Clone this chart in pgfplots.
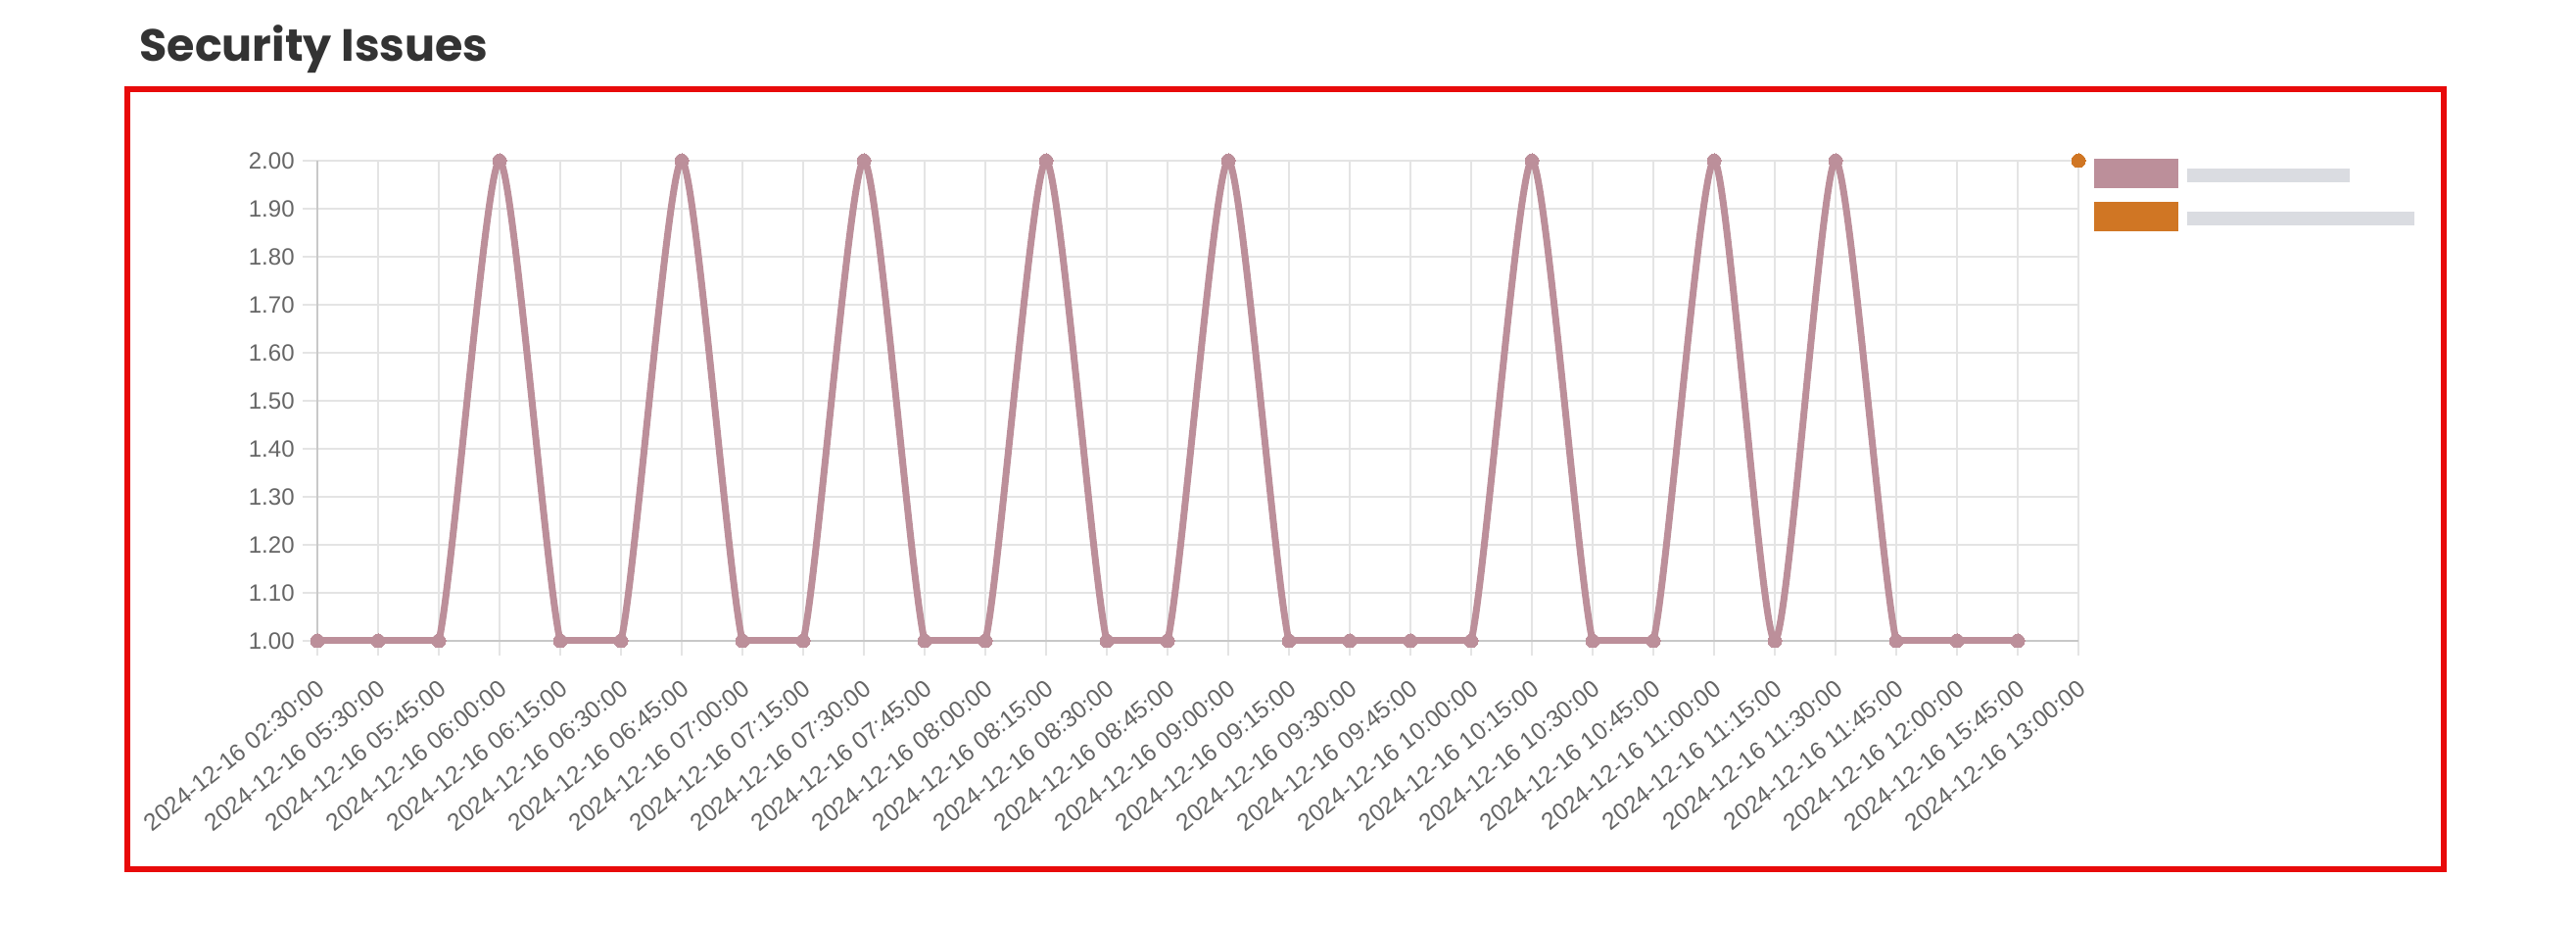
\documentclass[border=0pt]{standalone}
\usepackage{fontspec}
\setmainfont{Liberation Sans}
\newfontfamily\titlefont{Poppins}
\usepackage{pgfplots}
\pgfplotsset{compat=1.18}
\usepackage{pgfplotstable}

\definecolor{pinkc}{RGB}{188,143,154}
\definecolor{orangec}{RGB}{208,118,36}
\definecolor{gridc}{RGB}{228,228,228}
\definecolor{axisc}{RGB}{200,200,200}
\definecolor{labc}{RGB}{102,102,102}
\definecolor{titlec}{RGB}{51,51,51}
\definecolor{redc}{RGB}{232,10,10}
\definecolor{blurc}{RGB}{218,220,225}

% pink series: category index, value
\pgfplotstableread{
x y
0 1
1 1
2 1
3 2
4 1
5 1
6 2
7 1
8 1
9 2
10 1
11 1
12 2
13 1
14 1
15 2
16 1
17 1
18 1
19 1
20 2
21 1
22 1
23 2
24 1
25 2
26 1
27 1
28 1
}\pinkdata

% flat runs of the pink series (drawn straight)
\pgfplotstableread{
x y
0 1
1 1
2 1
3 nan
4 1
5 1
6 nan
7 1
8 1
9 nan
10 1
11 1
12 nan
13 1
14 1
15 nan
16 1
17 1
18 1
19 1
20 nan
21 1
22 1
23 nan
26 1
27 1
28 1
}\pinkflat

% orange series
\pgfplotstableread{
x y
29 2
}\orangedata

\pgfplotsset{
  common/.style={
    at={(162pt,146pt)}, anchor=south west,
    scale only axis, width=899pt, height=245pt,
    xmin=0, xmax=29, ymin=1, ymax=2,
  },
}

\begin{document}
\begin{tikzpicture}[x=1pt,y=1pt]
\useasboundingbox (0,0) rectangle (1315,473);
\draw[redc, line width=3pt] (65,29.5) rectangle (1247.5,427.5);
\node[anchor=base west, inner sep=0pt, text=titlec,
      font=\titlefont\bfseries\fontsize{23}{28}\selectfont] at (71,441.5) {Security Issues};

\begin{axis}[common,
  clip=true,
  axis x line*=bottom, axis y line*=left,
  axis line style={-, line width=1pt, draw=axisc},
  every outer x axis line/.append style={-},
  every outer y axis line/.append style={-},
  grid=major,
  major grid style={line width=1pt, draw=gridc},
  tick align=outside,
  major tick length=7.5pt,
  tick style={line width=1pt, draw=gridc},
  xtick={0,...,29},
  ytick={1,1.1,1.2,1.3,1.4,1.5,1.6,1.7,1.8,1.9,2},
  /pgf/number format/fixed,
  /pgf/number format/fixed zerofill,
  /pgf/number format/precision=2,
  /pgf/number format/assume math mode=true,
  every tick label/.append style={font=\fontsize{12}{14}\selectfont, text=labc},
  xticklabel style={font=\fontsize{12.3}{14}\selectfont, yshift=-15pt, xshift=2pt, rotate=39, anchor=east, inner sep=0pt},
  yticklabel style={xshift=-4pt, inner sep=0pt},
  xticklabels={2024-12-16 02:30:00,2024-12-16 05:30:00,2024-12-16 05:45:00,2024-12-16 06:00:00,2024-12-16 06:15:00,2024-12-16 06:30:00,2024-12-16 06:45:00,2024-12-16 07:00:00,2024-12-16 07:15:00,2024-12-16 07:30:00,2024-12-16 07:45:00,2024-12-16 08:00:00,2024-12-16 08:15:00,2024-12-16 08:30:00,2024-12-16 08:45:00,2024-12-16 09:00:00,2024-12-16 09:15:00,2024-12-16 09:30:00,2024-12-16 09:45:00,2024-12-16 10:00:00,2024-12-16 10:15:00,2024-12-16 10:30:00,2024-12-16 10:45:00,2024-12-16 11:00:00,2024-12-16 11:15:00,2024-12-16 11:30:00,2024-12-16 11:45:00,2024-12-16 12:00:00,2024-12-16 15:45:00,2024-12-16 13:00:00},
]
\addplot[draw=pinkc, line width=3.5pt, smooth, tension=0.4, line join=round, mark=none] table[x=x,y=y] {\pinkdata};
\end{axis}

\begin{axis}[common,
  clip=false, hide axis,
  unbounded coords=jump,
  legend style={at={(1.0089,1.0041)}, anchor=north west, draw=none, fill=none,
    inner sep=0pt, outer sep=0pt, row sep=7pt, column sep=4.5pt,
    nodes={inner sep=0pt}},
  legend cell align=left,
  legend image code/.code={\fill[#1] (0pt,-7.5pt) rectangle (43pt,7.5pt);},
]
\addplot[draw=pinkc, line width=3.5pt, mark=none, forget plot] table[x=x,y=y] {\pinkflat};
\addplot[color=pinkc, only marks, mark=*, mark size=3.5pt, mark options={fill=pinkc, draw=pinkc, line width=0pt}, forget plot] table[x=x,y=y] {\pinkdata};
\addplot[color=orangec, only marks, mark=*, mark size=3.5pt, mark options={fill=orangec, draw=orangec, line width=0pt}, forget plot] table[x=x,y=y] {\orangedata};
\addlegendimage{fill=pinkc, draw=none}
\addlegendentry{\textcolor{blurc}{\rule[-3.5pt]{83pt}{7pt}}}
\addlegendimage{fill=orangec, draw=none}
\addlegendentry{\textcolor{blurc}{\rule[-3.5pt]{116pt}{7pt}}}
\end{axis}
\end{tikzpicture}
\end{document}
